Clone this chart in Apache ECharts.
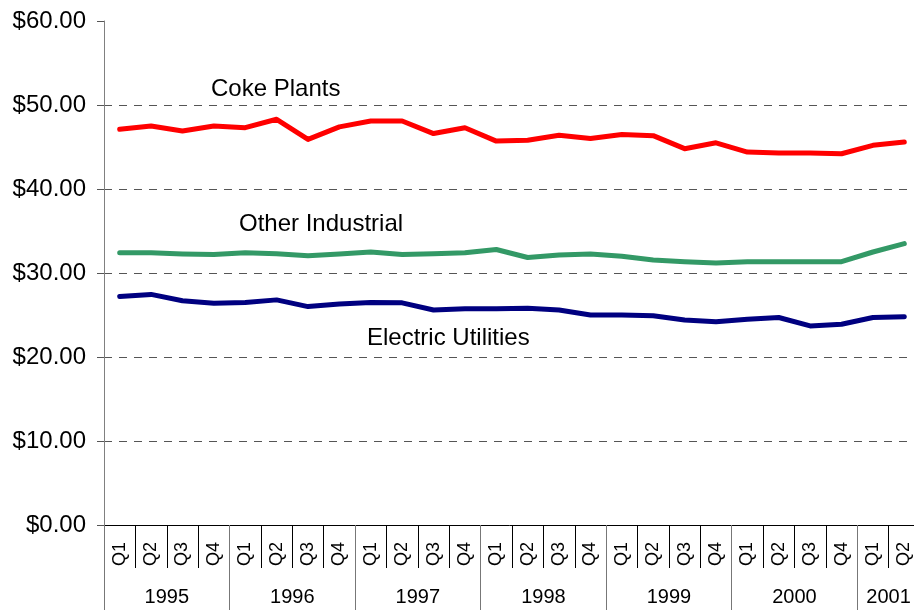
<!DOCTYPE html>
<html><head><meta charset="utf-8">
<script src="https://cdn.jsdelivr.net/npm/echarts@6/dist/echarts.min.js"></script>
<style>html,body{margin:0;padding:0;background:#fff}#c{width:914px;height:610px}</style>
</head><body><div id="c"></div>
<script>
const quarters = ['Q1','Q2','Q3','Q4','Q1','Q2','Q3','Q4','Q1','Q2','Q3','Q4','Q1','Q2','Q3','Q4','Q1','Q2','Q3','Q4','Q1','Q2','Q3','Q4','Q1','Q2'];
const years = ['1995','1996','1997','1998','1999','2000','2001'];
const quartersPerYear = [4,4,4,4,4,4,2];
const cokePlants = [47.1,47.5,46.9,47.5,47.3,48.3,45.9,47.4,48.1,48.1,46.6,47.3,45.7,45.8,46.4,46.0,46.5,46.35,44.8,45.5,44.4,44.3,44.3,44.2,45.2,45.6];
const otherIndustrial = [32.4,32.4,32.26,32.2,32.4,32.3,32.06,32.26,32.5,32.2,32.3,32.4,32.8,31.85,32.14,32.26,32.0,31.55,31.35,31.2,31.35,31.35,31.35,31.35,32.5,33.5];
const electricUtilities = [27.2,27.45,26.7,26.4,26.5,26.8,26.0,26.3,26.5,26.45,25.6,25.75,25.75,25.8,25.6,25.0,25.0,24.9,24.4,24.2,24.5,24.7,23.7,23.9,24.7,24.8];
const yTicks = [0,10,20,30,40,50,60];

const yearCenters = {};
let start = 0;
quartersPerYear.forEach((n,i)=>{ yearCenters[start + n/2] = years[i]; start += n; });

const FONT = 'Liberation Sans, Arial, sans-serif';
const chart = echarts.init(document.getElementById('c'));
const seriesLine = (name, data, color) => ({
  name, type:'line', data, xAxisIndex:0, yAxisIndex:0, symbol:'none', silent:true,
  lineStyle:{color, width:5, join:'round', cap:'round'}, z:3
});
chart.setOption({
  animation:false,
  grid:{left:104, width:816, top:21, bottom:85, containLabel:false, outerBoundsMode:'none'},
  xAxis:[
    {type:'category', data:quarters, position:'bottom', boundaryGap:true,
     axisLine:{lineStyle:{color:'#000', width:1}},
     axisTick:{alignWithLabel:true, length:4, lineStyle:{color:'#000'}},
     axisLabel:{rotate:90, fontSize:18, fontFamily:FONT, color:'#000', margin:17, interval:0},
     splitLine:{show:false}},
    {type:'category', data:quarters, position:'bottom', boundaryGap:true,
     axisLine:{show:false},
     axisTick:{alignWithLabel:true, inside:true, length:5, lineStyle:{color:'#000'}},
     axisLabel:{show:false}, splitLine:{show:false}},
    {type:'value', min:0, max:quarters.length, interval:1, position:'bottom',
     axisLine:{show:false},
     axisTick:{length:43, lineStyle:{color:'#000', width:1}},
     axisLabel:{fontSize:20, fontFamily:FONT, color:'#000', margin:62,
       formatter:v=>yearCenters[v] || ''},
     splitLine:{show:false}},
    {type:'value', min:0, max:quarters.length, interval:4, position:'bottom',
     axisLine:{show:false},
     axisTick:{length:85, lineStyle:{color:'#777', width:1}},
     axisLabel:{show:false}, splitLine:{show:false}}
  ],
  yAxis:[{type:'value', min:yTicks[0], max:yTicks[yTicks.length-1], interval:10,
    axisLine:{show:true, lineStyle:{color:'#808080', width:1}},
    axisTick:{show:true, length:7, lineStyle:{color:'#555'}},
    axisLabel:{fontSize:24, fontFamily:FONT, color:'#000', margin:18,
      formatter:v=>'$'+v.toFixed(2)},
    splitLine:{show:true, lineStyle:{type:[8,7], width:1,
      color:['rgba(0,0,0,0)','#555','#555','#555','#555','#555','rgba(0,0,0,0)']}}
  }],
  series:[
    seriesLine('Coke Plants', cokePlants, '#ff0000'),
    seriesLine('Other Industrial', otherIndustrial, '#339966'),
    seriesLine('Electric Utilities', electricUtilities, '#000080')
  ],
  graphic:[
    {type:'text', left:211, top:77, style:{text:'Coke Plants', font:'24px '+FONT, fill:'#000'}},
    {type:'text', left:239, top:212, style:{text:'Other Industrial', font:'24px '+FONT, fill:'#000'}},
    {type:'text', left:367, top:326, style:{text:'Electric Utilities', font:'24px '+FONT, fill:'#000'}}
  ]
});
</script></body></html>
